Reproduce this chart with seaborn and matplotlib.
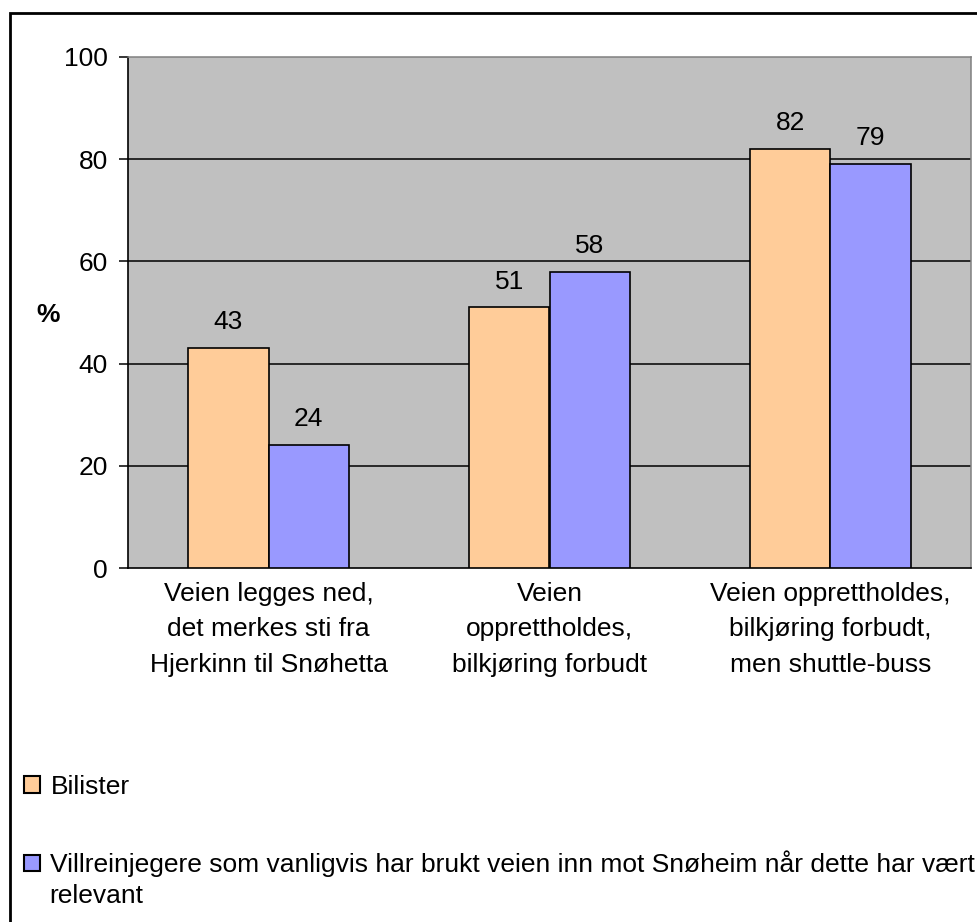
import matplotlib
matplotlib.use("Agg")
import matplotlib.pyplot as plt
import seaborn as sns
import pandas as pd
from matplotlib.patches import Rectangle, Patch

categories = [
    "Veien legges ned,\ndet merkes sti fra\nHjerkinn til Snøhetta",
    "Veien\nopprettholdes,\nbilkjøring forbudt",
    "Veien opprettholdes,\nbilkjøring forbudt,\nmen shuttle-buss",
]
series_names = [
    "Bilister",
    "Villreinjegere som vanligvis har brukt veien inn mot Snøheim når dette har vært\nrelevant",
]
bilister = [43, 51, 82]
villrein = [24, 58, 79]
yticks = [0, 20, 40, 60, 80, 100]
colors = ["#FFCC99", "#9999FF"]

df = pd.DataFrame({
    "kategori": categories * 2,
    "serie": [series_names[0]] * 3 + [series_names[1]] * 3,
    "verdi": bilister + villrein,
})

sns.set_theme(style="white")
plt.rcParams["font.family"] = ["Liberation Sans", "DejaVu Sans"]

FS = 19
W, H = 978, 922
fig = plt.figure(figsize=(W / 100, H / 100), dpi=100)
ax = fig.add_axes([128 / W, 1 - 568 / H, (971 - 128) / W, (568 - 57) / H])
ax.set_facecolor("#C0C0C0")

sns.barplot(data=df, x="kategori", y="verdi", hue="serie", palette=colors,
            saturation=1, width=0.57, gap=0, edgecolor="black", linewidth=1.2,
            legend=False, ax=ax, zorder=3)

for cont in ax.containers:
    ax.bar_label(cont, fmt="%d", padding=10, fontsize=FS, color="black")

ax.set_ylim(0, 100)
ax.set_xlim(-0.5, 2.5)
ax.set_yticks(yticks)
ax.set_yticklabels([str(v) for v in yticks], fontsize=FS, color="black")
for v in yticks[1:-1]:
    ax.axhline(v, color="black", linewidth=1.1, zorder=1)
ax.tick_params(axis="y", which="both", left=True, length=6.5, width=1.1,
               color="black", pad=8, direction="out")
ax.tick_params(axis="x", bottom=False, length=0, pad=10)
ax.set_xticks(range(len(categories)))
ax.set_xticklabels(categories, fontsize=FS, color="black", linespacing=1.6)
ax.set_xlabel("")
ax.set_ylabel("")

for s in ["top", "right"]:
    ax.spines[s].set_color("#808080")
    ax.spines[s].set_linewidth(1.1)
ax.spines["left"].set_color("black")
ax.spines["left"].set_linewidth(1.2)
ax.spines["bottom"].set_color("black")
ax.spines["bottom"].set_linewidth(1.2)

fig.text(48 / W, 1 - 315 / H, "%", fontsize=FS, fontweight="bold",
         ha="center", va="center", color="black")

# outer chart border
fig.add_artist(Rectangle((10 / W, -0.1), 1.2, 1 - 13 / H + 0.1,
                         transform=fig.transFigure, fill=False,
                         edgecolor="black", linewidth=2))

h1 = Patch(facecolor=colors[0], edgecolor="black", linewidth=1.5)
h2 = Patch(facecolor=colors[1], edgecolor="black", linewidth=1.5)
first_line, rest = series_names[1].split("\n", 1)
leg_kw = dict(frameon=False, fontsize=FS, handlelength=0.6, handleheight=0.6,
              handletextpad=0.4, borderpad=0, borderaxespad=0,
              labelcolor="black")
fig.legend([h1], [series_names[0]], loc="center left",
           bbox_to_anchor=(24 / W, 1 - 787 / H), **leg_kw)
fig.legend([h2], [first_line], loc="center left",
           bbox_to_anchor=(24 / W, 1 - 864 / H), **leg_kw)
fig.text(49 / W, 1 - 903 / H, rest, fontsize=FS, ha="left", va="baseline",
         color="black")

fig.savefig("out.png", dpi=100)
